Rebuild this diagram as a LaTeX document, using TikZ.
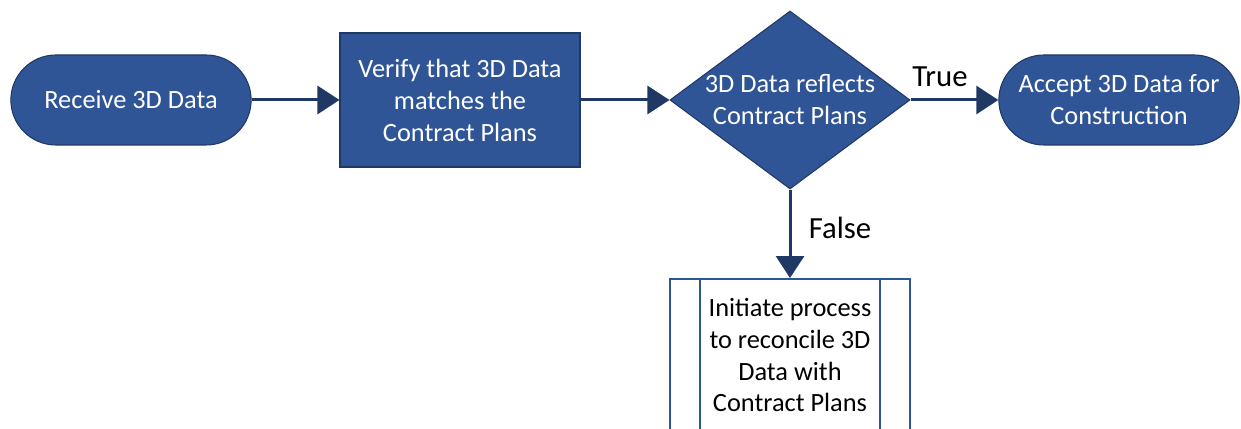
\documentclass[tikz,border=0pt]{standalone}
\usepackage{fontspec}
\setmainfont{Carlito}
\usepackage{xcolor}
\definecolor{flowBlue}{HTML}{2F5597}
\definecolor{flowEdge}{HTML}{203864}
\usepackage{tikz}
\usetikzlibrary{calc,shapes.geometric,shapes.misc,arrows.meta}

\begin{document}
\begin{tikzpicture}[>={Triangle[length=0.44cm,width=0.56cm]},
  flow/.style={->, draw=flowEdge, line width=1.7pt},
  bluetext/.style={text=white, align=center, font=\fontsize{15}{18.2}\selectfont},
  terminal/.style={rounded rectangle, fill=flowBlue, draw=flowEdge, line width=0.6pt,
    minimum width=5.04cm, minimum height=1.8cm, bluetext},
  procbox/.style={rectangle, fill=flowBlue, draw=flowEdge, line width=0.6pt,
    minimum width=4.8cm, minimum height=2.68cm, bluetext},
  decision/.style={diamond, fill=flowBlue, draw=flowEdge, line width=0.6pt, inner sep=0pt,
    minimum width=4.8cm, minimum height=3.56cm},
  subproc/.style={rectangle, fill=white, draw=flowBlue, line width=1.1pt,
    minimum width=4.8cm, minimum height=3.04cm, align=center,
    font=\fontsize{15}{18.2}\selectfont},
  branch/.style={font=\fontsize{17.5}{21}\selectfont}]
  % picture frame (the bottom box runs off the edge)
  \clip (0,0) rectangle (24.82,8.58);
  % the main row
  \node[terminal] (receive) at (2.62,6.58)  {Receive 3D Data};
  \node[procbox]  (verify)  at (9.2,6.58)   {Verify that 3D Data\\matches the\\Contract Plans};
  \node[decision] (check)   at (15.8,6.58)  {};
  \node[bluetext] (checktxt) at (check)     {3D Data reflects\\Contract Plans};
  \node[terminal] (accept)  at (22.38,6.58) {Accept 3D Data for\\Construction};
  % the False branch
  \node[subproc]  (reconcile) at (15.8,1.48)
    {Initiate process\\to reconcile 3D\\Data with\\Contract Plans};
  \draw[flowBlue, line width=1.1pt] ($(reconcile.north west)+(0.62,0)$) -- ($(reconcile.south west)+(0.62,0)$);
  \draw[flowBlue, line width=1.1pt] ($(reconcile.north east)+(-0.62,0)$) -- ($(reconcile.south east)+(-0.62,0)$);
  % connectors
  \draw[flow] (receive.east) -- (verify.west);
  \draw[flow] (verify.east) -- (check.west);
  \draw[flow] (check.east) -- (accept.west);
  \draw[flow] (check.south) -- (reconcile.north);
  % branch labels
  \node[branch] (truelbl)  at (18.8,7.04) {True};
  \node[branch] (falselbl) at (16.8,4.02) {False};
\end{tikzpicture}
\end{document}
